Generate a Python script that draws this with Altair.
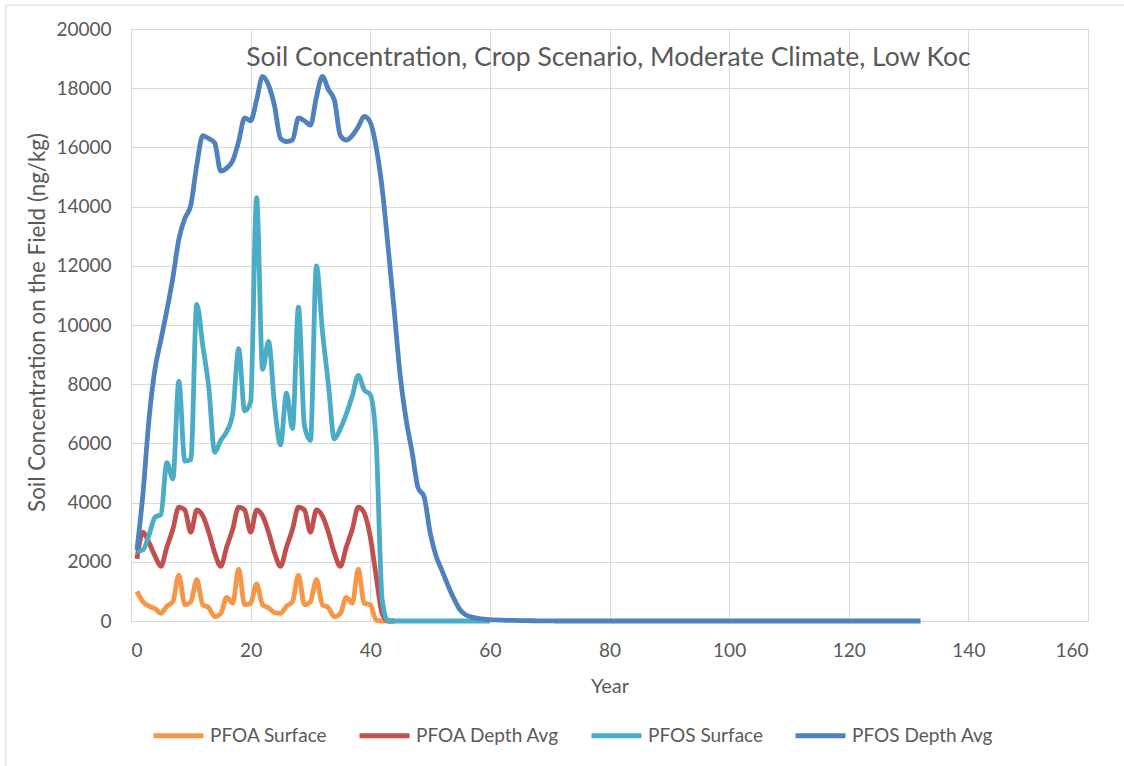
import altair as alt
import pandas as pd

# Simulation years (annual output)
years = list(range(1, 133))

# Soil concentrations (ng/kg) per year
pfoa_surface = [1000, 650, 500, 420, 260, 500, 650, 1550, 550, 650,
                1400, 550, 450, 150, 250, 800, 600, 1750, 550, 600,
                1250, 550, 450, 280, 260, 500, 650, 1550, 550, 650,
                1400, 550, 450, 150, 250, 800, 600, 1750, 600, 550,
                30, 0, 0, 0]

pfoa_depth = [2100, 3000, 2650, 2200, 1850, 2500, 3100, 3850, 3750, 3000,
              3750, 3550, 3000, 2300, 1850, 2500, 3100, 3850, 3750, 3000,
              3750, 3550, 3000, 2300, 1850, 2500, 3100, 3850, 3750, 3000,
              3750, 3550, 3000, 2300, 1850, 2500, 3100, 3850, 3650, 2850,
              1500, 250, 0, 0]

pfos_surface = [2350, 2400, 2900, 3500, 3600, 5350, 4800, 8100, 5400, 5450,
                10700, 9300, 7900, 5700, 6100, 6400, 7000, 9200, 7100, 7400,
                14300, 8500, 9450, 7300, 5950, 7700, 6500, 10600, 6600, 6100,
                12000, 9800, 8000, 6150, 6500, 7000, 7600, 8300, 7800, 7650,
                6000, 700, 0, 0, 0, 0, 0, 0, 0, 0,
                0, 0, 0, 0, 0, 0, 0, 0, 0, 0]

pfos_depth = [2400, 4300, 6800, 8500, 9500, 10500, 11600, 12900, 13600, 14050,
              15400, 16400, 16300, 16150, 15200, 15300, 15550, 16200, 17000, 16900,
              17600, 18400, 18100, 17400, 16300, 16200, 16250, 17000, 16900, 16750,
              17700, 18400, 17950, 17600, 16400, 16250, 16400, 16700, 17050, 16850,
              16000, 14600, 12600, 10500, 8300, 6800, 5700, 4500, 4200, 3000,
              2200, 1700, 1200, 750, 380, 200, 130, 90, 60, 45,
              35, 28, 22, 18, 14, 11, 9, 7, 5, 4] + [0] * 62

series_names = ["PFOA Surface", "PFOA Depth Avg", "PFOS Surface", "PFOS Depth Avg"]
series_colors = ["#F79646", "#C0504D", "#4BACC6", "#4F81BD"]
series_values = [pfoa_surface, pfoa_depth, pfos_surface, pfos_depth]

x_ticks = [0, 20, 40, 60, 80, 100, 120, 140, 160]
y_ticks = [0, 2000, 4000, 6000, 8000, 10000, 12000, 14000, 16000, 18000, 20000]

rows = []
for order, (name, vals) in enumerate(zip(series_names, series_values)):
    for yr, v in zip(years, vals):
        rows.append({"Year": yr, "Concentration": v, "Series": name, "order": order})
df = pd.DataFrame(rows)

FONT = "Lato"
TEXT = "#595959"
GRID = "#D9D9D9"
W, H = 957, 592

lines = alt.Chart(df).mark_line(strokeWidth=4.8, interpolate="monotone").encode(
    x=alt.X("Year:Q",
            scale=alt.Scale(domain=[0, 160], nice=False),
            axis=alt.Axis(values=x_ticks, title="Year", grid=True, tickSize=0,
                          labelPadding=20, titleY=65, titleBaseline="middle",
                          titleFontSize=20, format="d")),
    y=alt.Y("Concentration:Q",
            scale=alt.Scale(domain=[0, 20000], nice=False),
            axis=alt.Axis(values=y_ticks, title="Soil Concentration on the Field (ng/kg)",
                          grid=True, tickSize=0, labelPadding=20, format="d",
                          titleX=-94, titleY=H / 2 - 3, titleBaseline="middle",
                          titleFontSize=22.4)),
    color=alt.Color("Series:N",
                    scale=alt.Scale(domain=series_names, range=series_colors),
                    legend=alt.Legend(title=None, orient="none", direction="horizontal",
                                      columns=4, legendX=20, legendY=679,
                                      symbolType="stroke", symbolSize=2500,
                                      symbolStrokeWidth=5, labelFontSize=19,
                                      labelColor=TEXT, labelFont=FONT,
                                      labelOffset=4, columnPadding=21)),
    order=alt.Order("order:Q"),
)

title = alt.Chart(pd.DataFrame({"t": ["Soil Concentration, Crop Scenario, Moderate Climate, Low Koc"]})).mark_text(
    font=FONT, fontSize=26.5, color=TEXT, align="center", baseline="middle"
).encode(text="t:N", x=alt.value(W / 2 - 1), y=alt.value(29))

# Outer frame edges (top and left)
frame_top = alt.Chart(pd.DataFrame({"k": [0]})).mark_rule(color=GRID, strokeWidth=1).encode(
    x=alt.value(-125), x2=alt.value(993), y=alt.value(-24))
frame_left = alt.Chart(pd.DataFrame({"k": [0]})).mark_rule(color=GRID, strokeWidth=1).encode(
    x=alt.value(-125), y=alt.value(-24), y2=alt.value(737))

chart = alt.layer(frame_top, frame_left, lines, title).properties(
    width=W, height=H,
    autosize=alt.AutoSizeParams(type="none"),
    padding={"left": 131, "top": 29, "right": 36, "bottom": 145},
).configure(font=FONT, background="white").configure_view(
    stroke=GRID, strokeWidth=1
).configure_axis(
    gridColor=GRID, domainColor=GRID, labelColor=TEXT, titleColor=TEXT,
    labelFont=FONT, titleFont=FONT, labelFontSize=19, titleFontWeight="normal",
)

chart.save("out.html", embed_options={"renderer": "svg", "actions": False})
